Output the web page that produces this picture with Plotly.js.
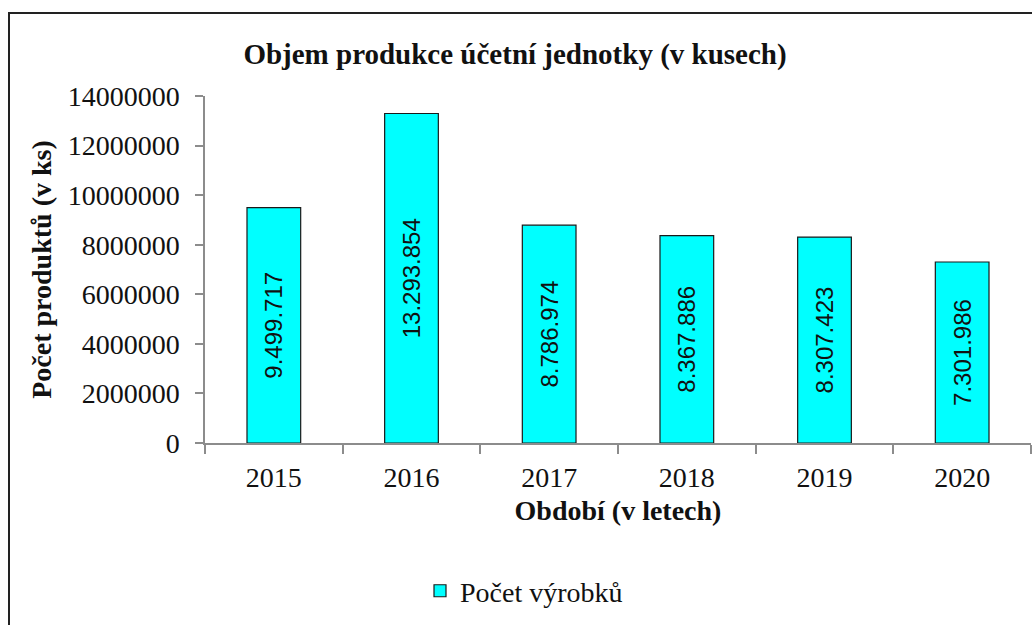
<!DOCTYPE html>
<html>
<head>
<meta charset="utf-8">
<script src="https://cdn.plot.ly/plotly-3.0.1.min.js"></script>
<style>
  html, body { margin: 0; padding: 0; background: #fff; overflow: hidden; }
  #wrap { position: relative; width: 1032px; height: 625px; }
  #chart { position: absolute; left: 0; top: 0; width: 1032px; height: 625px; }
  #frame { position: absolute; left: 8px; top: 12px; width: 1100px; height: 700px;
           border: 2px solid #222; pointer-events: none; box-sizing: border-box; }
</style>
</head>
<body>
<div id="wrap">
  <div id="chart"></div>
  <div id="frame"></div>
</div>
<script>
const years = ['2015', '2016', '2017', '2018', '2019', '2020'];
const counts = [9499717, 13293854, 8786974, 8367886, 8307423, 7301986];
const seriesName = 'Počet výrobků';
const chartTitle = 'Objem produkce účetní jednotky (v kusech)';
const xTitle = 'Období (v letech)';
const yTitle = 'Počet produktů (v ks)';
const yTicks = [0, 2000000, 4000000, 6000000, 8000000, 10000000, 12000000, 14000000];

const serif = '"Liberation Serif", "Times New Roman", serif';
const sans = '"Liberation Sans", Arial, sans-serif';

const trace = {
  type: 'bar',
  x: years,
  y: counts,
  name: seriesName,
  showlegend: true,
  marker: { color: '#00FFFF', line: { color: '#1a1a1a', width: 1.2 } },
  texttemplate: '%{y:,d}',
  textposition: 'inside',
  insidetextanchor: 'middle',
  textangle: -90,
  textfont: { family: sans, size: 24, color: '#111' },
  hoverinfo: 'x+y'
};

const layout = {
  width: 1032,
  height: 625,
  separators: ',.',
  paper_bgcolor: '#fff',
  plot_bgcolor: '#fff',
  margin: { l: 205, r: 1, t: 95.5, b: 181.5 },
  bargap: 0.61,
  title: {
    text: chartTitle,
    font: { family: serif, size: 29, color: '#111', weight: 'bold' },
    xref: 'container', x: 515 / 1032, xanchor: 'center',
    yref: 'container', y: 1 - 54 / 625, yanchor: 'middle'
  },
  xaxis: {
    type: 'category',
    showline: true, linecolor: '#8c8c8c', linewidth: 1.5,
    ticks: 'outside', tickson: 'boundaries', ticklen: 9, tickcolor: '#8c8c8c', tickwidth: 1.5,
    tickfont: { family: serif, size: 28, color: '#111' },
    ticklabelstandoff: 9,
    showgrid: false, zeroline: false,
    title: { text: xTitle, font: { family: serif, size: 28, color: '#111', weight: 'bold' }, standoff: 8 },
    automargin: false
  },
  yaxis: {
    range: [0, 14000000],
    tickvals: yTicks,
    tickformat: 'd',
    showline: true, linecolor: '#8c8c8c', linewidth: 1.5,
    ticks: 'outside', ticklen: 8, tickcolor: '#8c8c8c', tickwidth: 1.5,
    tickfont: { family: serif, size: 28, color: '#111' },
    ticklabelstandoff: 10,
    showgrid: false, zeroline: false,
    title: { text: yTitle, font: { family: serif, size: 28, color: '#111', weight: 'bold' }, standoff: 8 },
    automargin: false
  },
  legend: {
    orientation: 'h',
    x: (420 - 205) / 826, xanchor: 'left',
    y: -(592 - 443.5) / 348, yanchor: 'middle',
    font: { family: serif, size: 28, color: '#111' },
    bgcolor: 'rgba(0,0,0,0)'
  },
  showlegend: true
};

Plotly.newPlot('chart', [trace], layout, { displayModeBar: false, staticPlot: false });
</script>
</body>
</html>
